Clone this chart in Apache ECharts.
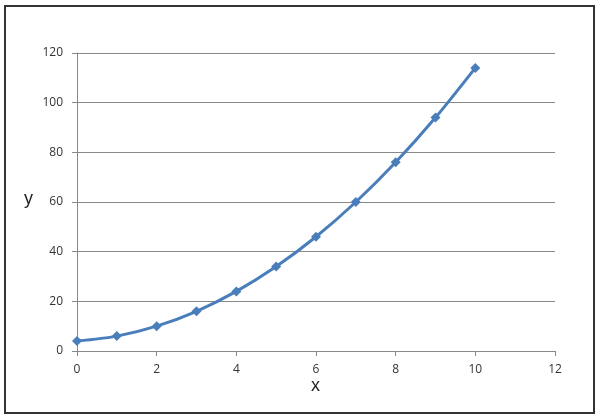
<!DOCTYPE html>
<html><head><meta charset="utf-8">
<script src="https://cdn.jsdelivr.net/npm/echarts@6/dist/echarts.min.js"></script>
<style>html,body{margin:0;padding:0;background:#fff}#c{width:600px;height:420px}</style>
</head><body><div id="c"></div>
<script>
const xValues = [0, 1, 2, 3, 4, 5, 6, 7, 8, 9, 10];
const yValues = [4, 6, 10, 16, 24, 34, 46, 60, 76, 94, 114];
const xTicks = [0, 2, 4, 6, 8, 10, 12];
const yTicks = [0, 20, 40, 60, 80, 100, 120];

const chart = echarts.init(document.getElementById('c'), null, {renderer: 'canvas'});
chart.setOption({
  animation: false,
  backgroundColor: '#fff',
  grid: {left: 77, right: 45, top: 53, bottom: 69},
  graphic: [
    {type: 'rect', shape: {x: 5, y: 6, width: 589, height: 407},
     style: {fill: 'none', stroke: '#333', lineWidth: 2}, z: -1},
    {type: 'text', left: 24, top: 190, style: {text: 'y', font: '18px "Liberation Sans", Arial, sans-serif', fill: '#222'}},
    {type: 'text', left: 311, top: 377, style: {text: 'x', font: '18px "Liberation Sans", Arial, sans-serif', fill: '#222'}}
  ],
  xAxis: {
    type: 'value', min: xTicks[0], max: xTicks[xTicks.length - 1], interval: 2,
    axisLine: {lineStyle: {color: '#888', width: 1}},
    axisTick: {show: true, length: 5, lineStyle: {color: '#888'}},
    splitLine: {show: false},
    axisLabel: {color: '#333', fontSize: 12, margin: 13, fontFamily: '"Open Sans", sans-serif'}
  },
  yAxis: {
    type: 'value', min: yTicks[0], max: yTicks[yTicks.length - 1], interval: 20,
    axisLine: {show: true, lineStyle: {color: '#888', width: 1}},
    axisTick: {show: true, length: 5, lineStyle: {color: '#888'}},
    splitLine: {show: true, lineStyle: {color: '#888', width: 1}},
    axisLabel: {color: '#333', fontSize: 12, margin: 14, fontFamily: '"Open Sans", sans-serif'}
  },
  series: [{
    type: 'line',
    data: xValues.map((x, i) => [x, yValues[i]]),
    smooth: 0.3,
    symbol: 'diamond',
    symbolSize: 10,
    lineStyle: {color: '#4a7ebb', width: 3},
    itemStyle: {color: '#4a7ebb'}
  }]
});
</script></body></html>
